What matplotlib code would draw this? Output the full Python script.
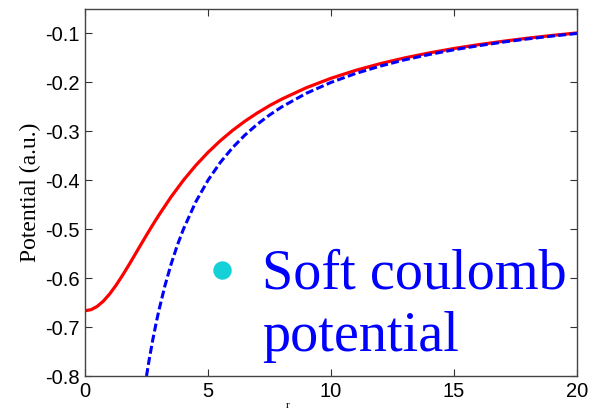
import matplotlib
matplotlib.use("Agg")
import matplotlib.pyplot as plt

# Soft coulomb potential (red, solid)
r_soft = [0, 0.25, 0.5, 0.75, 1, 1.25, 1.5, 1.75, 2, 2.25, 2.5, 2.75, 3, 3.5, 4,
          4.5, 5, 5.5, 6, 6.5, 7, 7.5, 8, 9, 10, 11, 12, 13, 14, 15, 16, 17, 18, 19, 20]
v_soft = [-0.6667, -0.6644, -0.6576, -0.6468, -0.6325, -0.6154, -0.5963, -0.5759,
          -0.5547, -0.5333, -0.5121, -0.4914, -0.4714, -0.4339, -0.4000, -0.3698,
          -0.3430, -0.3192, -0.2981, -0.2793, -0.2626, -0.2475, -0.2341, -0.2108,
          -0.1916, -0.1754, -0.1617, -0.1499, -0.1397, -0.1307, -0.1229, -0.1159,
          -0.1096, -0.1040, -0.0989]

# Coulomb potential (blue, dashed)
r_coul = [2.5, 2.6, 2.75, 2.9, 3, 3.25, 3.5, 3.75, 4, 4.5, 5, 5.5, 6, 6.5, 7, 7.5,
          8, 9, 10, 11, 12, 13, 14, 15, 16, 17, 18, 19, 20]
v_coul = [-0.8000, -0.7692, -0.7273, -0.6897, -0.6667, -0.6154, -0.5714, -0.5333,
          -0.5000, -0.4444, -0.4000, -0.3636, -0.3333, -0.3077, -0.2857, -0.2667,
          -0.2500, -0.2222, -0.2000, -0.1818, -0.1667, -0.1538, -0.1429, -0.1333,
          -0.1250, -0.1176, -0.1111, -0.1053, -0.1000]

xticks = [0, 5, 10, 15, 20]
yticks = [-0.8, -0.7, -0.6, -0.5, -0.4, -0.3, -0.2, -0.1]
ytick_labels = ["-0.8", "-0.7", "-0.6", "-0.5", "-0.4", "-0.3", "-0.2", "-0.1"]

fig = plt.figure(figsize=(5.96, 4.11), dpi=100)
ax = fig.add_axes([85/596, 35/411, 492/596, 367/411])

ax.plot(r_soft, v_soft, color="#ff0000", lw=2.3, solid_capstyle="round")
ax.plot(r_coul, v_coul, color="#0000ff", lw=2.2, ls=(0, (2.6, 1.1)))

ax.set_xlim(0, 20)
ax.set_ylim(-0.8, -0.05)
ax.set_xticks(xticks)
ax.set_xticklabels([str(t) for t in xticks])
ax.set_yticks(yticks)
ax.set_yticklabels(ytick_labels)
ax.tick_params(direction="in", top=True, right=True, length=5, width=0.8,
               colors="#333333", labelcolor="black", labelsize=14.5, pad=4)
for lab in ax.get_xticklabels() + ax.get_yticklabels():
    lab.set_fontfamily("Liberation Sans")
for s in ax.spines.values():
    s.set_color("#444444")
    s.set_linewidth(1.0)

ax.set_ylabel("Potential (a.u.)", family="Liberation Serif", fontsize=17, labelpad=3)
fig.text(288/596, 1 - 401/411, "r", family="Liberation Serif", fontsize=8,
         ha="center", va="top")

# Annotation
ax.scatter([5.57], [-0.584], s=150, color="#14d0d8", zorder=5, clip_on=False)
fig.text(262/596, 1 - 288/411, "Soft coulomb", family="Liberation Serif",
         fontsize=40.5, color="#0000ff", ha="left", va="baseline")
fig.text(262/596, 1 - 351/411, "potential", family="Liberation Serif",
         fontsize=40.5, color="#0000ff", ha="left", va="baseline")

fig.savefig("out.png", dpi=100)
